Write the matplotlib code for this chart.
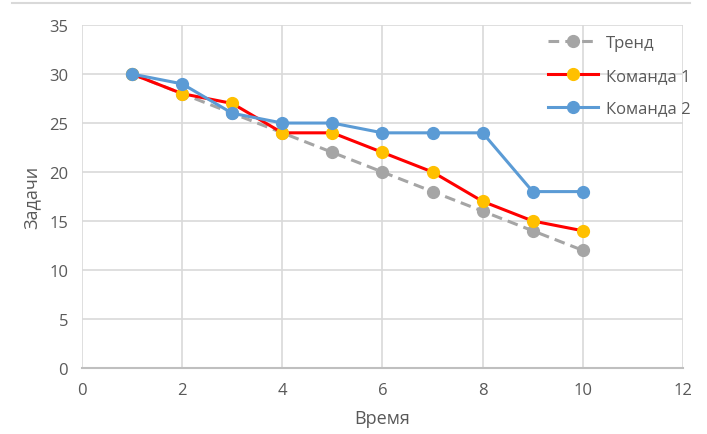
import matplotlib
matplotlib.use('Agg')
import matplotlib.pyplot as plt
from matplotlib.lines import Line2D

plt.rcParams['font.family'] = ['Liberation Sans Narrow', 'Open Sans', 'DejaVu Sans']

time = [1, 2, 3, 4, 5, 6, 7, 8, 9, 10]
trend = [30, 28, 26, 24, 22, 20, 18, 16, 14, 12]
team1 = [30, 28, 27, 24, 24, 22, 20, 17, 15, 14]
team2 = [30, 29, 26, 25, 25, 24, 24, 24, 18, 18]

fig = plt.figure(figsize=(7.07, 4.35), dpi=100)
ax = fig.add_axes([0.116, 0.152, 0.85, 0.788])

ax.plot(time, trend, color='#A5A5A5', lw=2.2, ls=(0, (3.5, 2)), marker='o', ms=8.5,
        mfc='#A5A5A5', mec='#A5A5A5', label='Тренд', zorder=3)
ax.plot(time, team1, color='#FF0000', lw=2.2, marker='o', ms=8.5,
        mfc='#FFC000', mec='#FFC000', label='Команда 1', zorder=4)
ax.plot(time, team2, color='#5B9BD5', lw=2.2, marker='o', ms=8.5,
        mfc='#5B9BD5', mec='#5B9BD5', label='Команда 2', zorder=5)

ax.set_xlim(0, 12)
ax.set_ylim(0, 35)
ax.set_xticks(range(0, 13, 2))
ax.set_yticks(range(0, 36, 5))
ax.grid(True, color='#D9D9D9', lw=1.2)
ax.set_axisbelow(True)
for side in ['top', 'right', 'left']:
    ax.spines[side].set_visible(False)
ax.spines['bottom'].set_color('#BFBFBF')
ax.spines['bottom'].set_linewidth(1.5)
ax.tick_params(length=0, labelsize=12, colors='#595959', pad=10)
ax.set_xlabel('Время', fontsize=13, color='#595959', labelpad=8)
ax.set_ylabel('Задачи', fontsize=13, color='#595959', labelpad=6)

leg = ax.legend(loc='upper right', frameon=False, fontsize=12, handlelength=3.0,
                handletextpad=0.5, labelspacing=1.0, borderaxespad=0.2,
                bbox_to_anchor=(1.03, 1.0))
for t in leg.get_texts():
    t.set_color('#595959')

fig.add_artist(Line2D([12 / 707, 690 / 707], [1 - 4 / 435, 1 - 4 / 435],
                      color='#D9D9D9', lw=1.5, transform=fig.transFigure))

fig.savefig('out.png', dpi=100)
